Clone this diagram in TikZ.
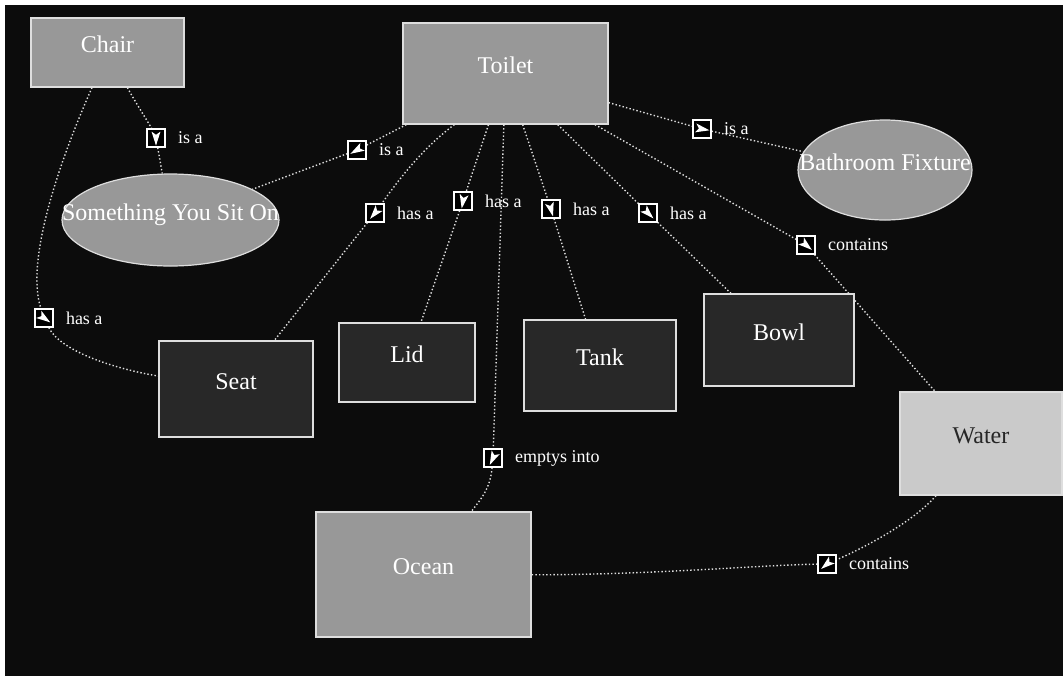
\documentclass[tikz,border=0pt]{standalone}
\usepackage{fontspec}
\setmainfont{Liberation Serif}
\usetikzlibrary{shapes.geometric, backgrounds, positioning}
\definecolor{bgblack}{RGB}{12,12,12}
\definecolor{cgray}{RGB}{152,152,152}
\definecolor{cdark}{RGB}{40,40,40}
\definecolor{clight}{RGB}{202,202,202}
\definecolor{edgewhite}{RGB}{222,222,222}

\begin{document}
\begin{tikzpicture}[x=0.5pt, y=-0.5pt, label distance=5pt,
  cbox/.style={draw=edgewhite, line width=0.6pt, inner sep=0pt, font=\fontsize{12}{14}\selectfont, text height=8pt, text depth=8pt},
  gbox/.style={cbox, rectangle, fill=cgray, text=white},
  dbox/.style={cbox, rectangle, fill=cdark, text=white},
  wbox/.style={cbox, rectangle, fill=clight, text=black!85},
  obox/.style={cbox, ellipse, fill=cgray, text=white},
  dirmark/.style={draw=white, fill=black, line width=0.6pt, minimum size=9pt, inner sep=0pt,
    path picture={\fill[white]
      ([shift={(#1:3.8pt)}]path picture bounding box.center)
      -- ([shift={({#1+145}:3.9pt)}]path picture bounding box.center)
      -- ([shift={({#1+180}:1.6pt)}]path picture bounding box.center)
      -- ([shift={({#1-145}:3.9pt)}]path picture bounding box.center) -- cycle;}},
  lbl/.style={text=white, font=\fontsize{9}{11}\selectfont, inner sep=1pt},
  rel/.style={draw=edgewhite, line width=0.7pt, dash pattern=on 0.7pt off 1.1pt}
]
  \useasboundingbox (0,0) rectangle (1063,676);

  % concepts
  \node[gbox, minimum width=76.5pt, minimum height=34.5pt] (chair) at (107.5,52.5) {Chair};
  \node[gbox, minimum width=102.5pt, minimum height=50.5pt] (toilet) at (505.5,73.5) {Toilet};
  \node[obox, minimum width=108.5pt, minimum height=46pt] (sit) at (170.5,220) {\makebox[0pt]{Something You Sit On}};
  \node[obox, minimum width=87pt, minimum height=50pt] (fixture) at (885,170) {\makebox[0pt]{Bathroom Fixture}};
  \node[dbox, minimum width=77pt, minimum height=48pt] (seat) at (236,389) {Seat};
  \node[dbox, minimum width=68pt, minimum height=39.5pt] (lid) at (407,362.5) {Lid};
  \node[dbox, minimum width=76pt, minimum height=45.5pt] (tank) at (600,365.5) {Tank};
  \node[dbox, minimum width=75pt, minimum height=46pt] (bowl) at (779,340) {Bowl};
  \node[wbox, minimum width=81pt, minimum height=51.5pt] (water) at (981,443.5) {Water};
  \node[gbox, minimum width=107.5pt, minimum height=62.5pt] (ocean) at (423.5,574.5) {Ocean};

  % link markers
  \node[dirmark=-90, label={[lbl]right:is a}] (i1) at (156,138) {};
  \node[dirmark=-150, label={[lbl]right:is a}] (i2) at (357,150) {};
  \node[dirmark=-10, label={[lbl]right:is a}] (i3) at (702,129) {};
  \node[dirmark=-130, label={[lbl]right:has a}] (i4) at (375,213) {};
  \node[dirmark=-100, label={[lbl]right:has a}] (i5) at (463,201) {};
  \node[dirmark=-75, label={[lbl]right:has a}] (i6) at (551,209) {};
  \node[dirmark=-45, label={[lbl]right:has a}] (i7) at (648,213) {};
  \node[dirmark=-40, label={[lbl]right:contains}] (i8) at (806,245) {};
  \node[dirmark=-35, label={[lbl]right:has a}] (i9) at (44,318) {};
  \node[dirmark=-115, label={[lbl]right:emptys into}] (i10) at (493,458) {};
  \node[dirmark=-140, label={[lbl]right:contains}] (i11) at (827,564) {};

  \begin{scope}[on background layer]
    \fill[white] (0,0) rectangle (1063,676);
    \fill[bgblack] (5,5) rectangle (1063,676);
    % links
    \draw[rel] (chair) .. controls (140,110) and (150,125) .. (i1);
    \draw[rel] (i1) -- (sit);
    \draw[rel] (toilet) -- (i2) -- (sit);
    \draw[rel] (toilet) -- (i3) -- (fixture);
    \draw[rel] (toilet.-135) .. controls (420,150) and (395,185) .. (i4);
    \draw[rel] (i4) -- (seat);
    \draw[rel] (toilet) -- (i5) -- (lid);
    \draw[rel] (toilet) -- (i6) -- (tank);
    \draw[rel] (toilet) -- (i7) -- (bowl);
    \draw[rel] (toilet) -- (i8) -- (water);
    \draw[rel] (chair) .. controls (60,160) and (25,260) .. (i9);
    \draw[rel] (i9) .. controls (60,350) and (110,368) .. (seat);
    \draw[rel] (toilet) -- (i10);
    \draw[rel] (i10) .. controls (490,490) and (480,500) .. (ocean);
    \draw[rel] (water) .. controls (915,520) and (870,545) .. (i11);
    \draw[rel] (i11) .. controls (760,565) and (650,575) .. (ocean);
  \end{scope}
\end{tikzpicture}
\end{document}
